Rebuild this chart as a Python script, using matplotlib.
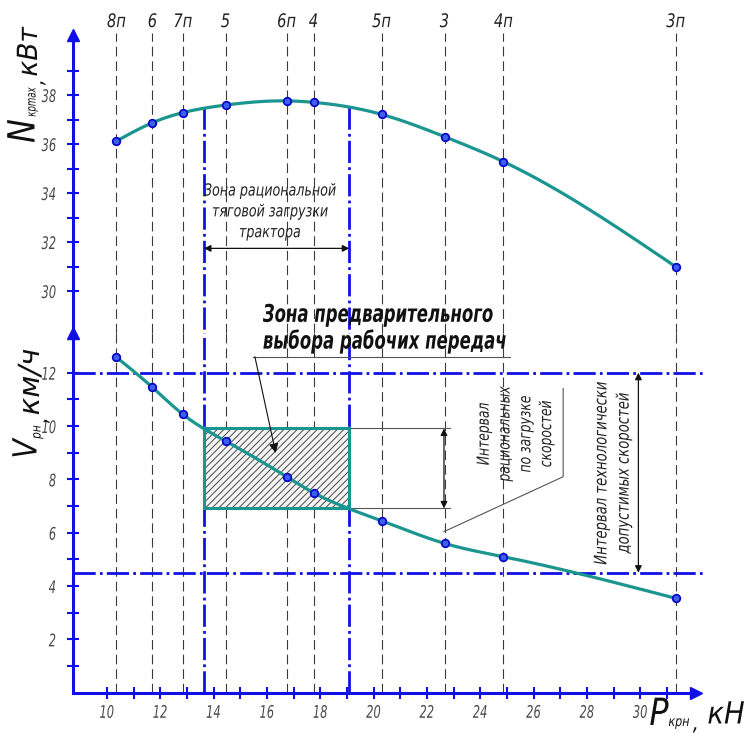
import numpy as np
import matplotlib
matplotlib.use('Agg')
import matplotlib.pyplot as plt
from matplotlib.patches import Rectangle
from matplotlib.transforms import Affine2D, blended_transform_factory
from matplotlib.patheffects import AbstractPathEffect

# ---------------- data ----------------
gears = ['8п', '6', '7п', '5', '6п', '4', '5п', '3', '4п', '3п']
p_kr = [10.36, 11.71, 12.85, 14.45, 16.74, 17.75, 20.30, 22.66, 24.87, 31.33]
n_kr = [36.12, 36.87, 37.28, 37.59, 37.76, 37.70, 37.21, 36.30, 35.28, 30.99]
v_rn = [12.58, 11.45, 10.44, 9.44, 8.10, 7.50, 6.45, 5.60, 5.10, 3.54]
zone_p = [13.64, 19.09]          # rational traction load zone
zone_n_top = 37.5
zone_v = [6.91, 9.91]            # rational speed interval
v_limits = [4.5, 12.0]           # technologically admissible speeds
n_ticks = [30, 32, 34, 36, 38]
v_ticks = [2, 4, 6, 8, 10, 12]
p_ticks = [10, 12, 14, 16, 18, 20, 22, 24, 26, 28, 30]

W, H = 747, 733
plt.rcParams['font.family'] = ['DejaVu Sans']
plt.rcParams['font.style'] = 'italic'
plt.rcParams['lines.scale_dashes'] = False
plt.rcParams['hatch.linewidth'] = 0.7

BLUE = '#1010e6'
TEAL = '#1b958f'
GRAY = '#3a3a3a'
TXT = '#222222'
TICK = '#4a4a4a'


class Condense(AbstractPathEffect):
    """Draw text glyphs horizontally condensed (drawing-office narrow style)."""

    def __init__(self, sx=0.7, anchor='center'):
        super().__init__()
        self.sx = sx
        self.anchor = anchor

    def draw_path(self, renderer, gc, tpath, affine, rgbFace=None):
        v = tpath.vertices
        cx = 0.0
        if len(v):
            if self.anchor == 'center':
                cx = (v[:, 0].min() + v[:, 0].max()) / 2
            elif self.anchor == 'right':
                cx = v[:, 0].max()
        t = Affine2D().translate(-cx, 0).scale(self.sx, 1).translate(cx, 0) + affine
        renderer.draw_path(gc, tpath, t, rgbFace)


def cond(sx, anchor='center'):
    return [Condense(sx, anchor)]


fig = plt.figure(figsize=(W / 100, H / 100), dpi=100)
PX = Affine2D().scale(1 / W, -1 / H).translate(0, 1) + fig.transFigure

xl = (8.73, 32.39)
ax_t = fig.add_axes([73 / W, (H - 333) / H, 631 / W, 298 / H])
ax_b = fig.add_axes([73 / W, (H - 692.7) / H, 631 / W, 359.7 / H])
ax_t.set_xlim(*xl)
ax_b.set_xlim(*xl)
ax_t.set_ylim(28.286, 40.449)
ax_b.set_ylim(0, 13.49)

for ax in (ax_t, ax_b):
    ax.patch.set_alpha(0)
    for s in ('top', 'right'):
        ax.spines[s].set_visible(False)
    ax.spines['left'].set_color(BLUE)
    ax.spines['left'].set_linewidth(2.2)
    ax.tick_params(axis='both', colors=BLUE, direction='inout', length=8,
                   width=1.5, labelcolor=TICK, labelsize=12.5)
    ax.tick_params(which='minor', colors=BLUE, direction='inout', length=8, width=1.5)

ax_t.spines['bottom'].set_visible(False)
ax_t.tick_params(axis='x', bottom=False, labelbottom=False)
ax_t.set_xticks([])
ax_t.set_yticks(n_ticks)
ax_t.set_yticks(list(range(31, 40, 2)), minor=True)
ax_t.tick_params(axis='y', pad=8)

ax_b.spines['bottom'].set_color(BLUE)
ax_b.spines['bottom'].set_linewidth(2.2)
ax_b.spines['bottom'].set_bounds(xl[0], 32.0)
ax_b.set_yticks(v_ticks)
ax_b.set_yticks(list(range(1, 13, 2)), minor=True)
ax_b.set_xticks(p_ticks)
ax_b.set_xticks(list(range(11, 32, 2)), minor=True)
ax_b.tick_params(axis='y', pad=8)
ax_b.tick_params(axis='x', pad=4)
for lab in ax_b.get_yticklabels() + ax_t.get_yticklabels():
    lab.set_path_effects(cond(0.66, 'right'))
for lab in ax_b.get_xticklabels():
    lab.set_path_effects(cond(0.66, 'center'))

# arrows on axes
ax_t.plot([0], [1], marker='^', ms=9, color=BLUE, transform=ax_t.transAxes, clip_on=False)
ax_b.plot([0], [1], marker='^', ms=9, color=BLUE, transform=ax_b.transAxes, clip_on=False)
ax_b.plot([32.1], [0], marker='>', ms=9, color=BLUE, clip_on=False)


def smooth(x, y, n=400):
    x = np.asarray(x, float)
    y = np.asarray(y, float)
    h = np.diff(x)
    m = len(x)
    A = np.zeros((m, m))
    r = np.zeros(m)
    A[0, 0] = A[-1, -1] = 1
    for i in range(1, m - 1):
        A[i, i - 1] = h[i - 1]
        A[i, i] = 2 * (h[i - 1] + h[i])
        A[i, i + 1] = h[i]
        r[i] = 6 * ((y[i + 1] - y[i]) / h[i] - (y[i] - y[i - 1]) / h[i - 1])
    M = np.linalg.solve(A, r)
    xs = np.linspace(x[0], x[-1], n)
    k = np.clip(np.searchsorted(x, xs) - 1, 0, m - 2)
    t1 = x[k + 1] - xs
    t0 = xs - x[k]
    hk = h[k]
    ys = (M[k] * t1 ** 3 + M[k + 1] * t0 ** 3) / (6 * hk) + \
        (y[k] / hk - M[k] * hk / 6) * t1 + (y[k + 1] / hk - M[k + 1] * hk / 6) * t0
    return xs, ys


# gear dashed verticals and labels
trans_lbl = blended_transform_factory(ax_t.transData, ax_t.transAxes)
for g, p in zip(gears, p_kr):
    ax_t.plot([p, p], [0, 1.007], color=GRAY, lw=0.8, ls=(0, (7, 3.5)),
              transform=trans_lbl, clip_on=False, zorder=1)
    ax_b.axvline(p, color=GRAY, lw=0.8, ls=(0, (7, 3.5)), zorder=1)
    ax_t.text(p, 1.045, g, transform=trans_lbl, ha='center', va='center',
              fontsize=13.5, color=TXT, clip_on=False, path_effects=cond(0.78))

# dash-dot zone lines
DD = (0, (16, 3, 2, 3))
for p in zone_p:
    ax_t.plot([p, p], [zone_n_top, 28.286], color=BLUE, lw=2, ls=DD, zorder=2, clip_on=False)
    ax_b.axvline(p, color=BLUE, lw=2, ls=DD, zorder=2)
for v in v_limits:
    ax_b.axhline(v, color=BLUE, lw=2, ls=DD, zorder=2)

# hatched rectangle
ax_b.add_patch(Rectangle((zone_p[0], zone_v[0]), zone_p[1] - zone_p[0], zone_v[1] - zone_v[0],
                         facecolor='#f4f4f4', edgecolor='#4a4a4a', hatch='/////', lw=0, zorder=1.5))
ax_b.add_patch(Rectangle((zone_p[0], zone_v[0]), zone_p[1] - zone_p[0], zone_v[1] - zone_v[0],
                         facecolor='none', edgecolor=TEAL, lw=2.2, zorder=3))

# curves
xs, ys = smooth(p_kr, n_kr)
ax_t.plot(xs, ys, color=TEAL, lw=2.3, zorder=4)
ax_t.plot(p_kr, n_kr, 'o', ms=5.5, mfc='#3c60e8', mec='#0000c8', mew=1.2, zorder=5)
xs, ys = smooth(p_kr, v_rn)
ax_b.plot(xs, ys, color=TEAL, lw=2.3, zorder=4)
ax_b.plot(p_kr, v_rn, 'o', ms=5.5, mfc='#3c60e8', mec='#0000c8', mew=1.2, zorder=5)

# top annotation: zone of rational traction load
ax_t.annotate('', xy=(zone_p[0], 31.74), xytext=(zone_p[1], 31.74),
              arrowprops=dict(arrowstyle='<|-|>', color='#111111', lw=0.9,
                              mutation_scale=10, shrinkA=0, shrinkB=0))
ax_t.text(16.11, 33.25, 'Зона рациональной\nтяговой загрузки\nтрактора', ha='center',
          va='center', fontsize=12, color=TXT, linespacing=1.2, path_effects=cond(0.76))

# big label with leader
ax_b.text(15.85, 13.67, 'Зона предварительного\nвыбора рабочих передач', ha='left',
          va='center', fontsize=17.5, fontweight='bold', color='#111111', linespacing=1.1,
          clip_on=False, path_effects=cond(0.68, 'left'))
ax_b.plot([15.47, 25.11], [12.6, 12.6], color='#555555', lw=0.8, zorder=6)
ax_b.annotate('', xy=(16.33, 8.99), xytext=(15.55, 12.6),
              arrowprops=dict(arrowstyle='-|>', color='#111111', lw=0.8,
                              mutation_scale=14, shrinkA=0, shrinkB=0), zorder=6)

# rational speed interval
for v in zone_v:
    ax_b.plot([zone_p[1], 22.86], [v, v], color='#555555', lw=0.8, zorder=2)
ax_b.annotate('', xy=(22.64, zone_v[1]), xytext=(22.64, zone_v[0]),
              arrowprops=dict(arrowstyle='<|-|>', color='#111111', lw=0.9,
                              mutation_scale=10, shrinkA=0, shrinkB=0))
ax_b.plot([22.64, 27.11, 27.11], [6.04, 8.1, 11.41], color='#555555', lw=0.8, zorder=2)
ax_b.text(25.3, 9.7, 'Интервал\nрациональных\nпо загрузке\nскоростей', rotation=90,
          ha='center', va='center', fontsize=12, color=TXT, linespacing=1.2,
          multialignment='center', path_effects=cond(0.74))

# technologically admissible interval
ax_b.annotate('', xy=(29.93, v_limits[1]), xytext=(29.93, v_limits[0]),
              arrowprops=dict(arrowstyle='<|-|>', color='#111111', lw=0.9,
                              mutation_scale=10, shrinkA=0, shrinkB=0))
ax_b.text(28.96, 8.24, 'Интервал технологически\nдопустимых скоростей', rotation=90,
          ha='center', va='center', fontsize=12.5, color=TXT, linespacing=1.3,
          multialignment='center', path_effects=cond(0.76))


# axis labels (in pixel coordinates)
def ptxt(x, y, s, size, rot=0, sx=0.85):
    fig.text(x, y, s, transform=PX, fontsize=size, rotation=rot, ha='center',
             va='center', color='#111111', path_effects=cond(sx))


ptxt(24.5, 131, 'N', 27, 90)
ptxt(32, 102, 'крmax', 9.5, 90, 0.65)
ptxt(37, 82, ',', 16, 90)
ptxt(29, 52, 'кВт', 20, 90, 0.95)

ptxt(27, 449, 'V', 24, 90)
ptxt(37, 432, 'рн', 9.5, 90, 0.8)
ptxt(41, 420, ',', 16, 90)
ptxt(31, 382, 'км/ч', 21, 90, 1.0)

ptxt(659, 715, 'P', 27)
ptxt(679, 722, 'крн', 10, 0, 0.8)
ptxt(696, 724, ',', 16)
ptxt(726, 715, 'кН', 22, 0, 0.9)

fig.savefig('out.png', dpi=100)
